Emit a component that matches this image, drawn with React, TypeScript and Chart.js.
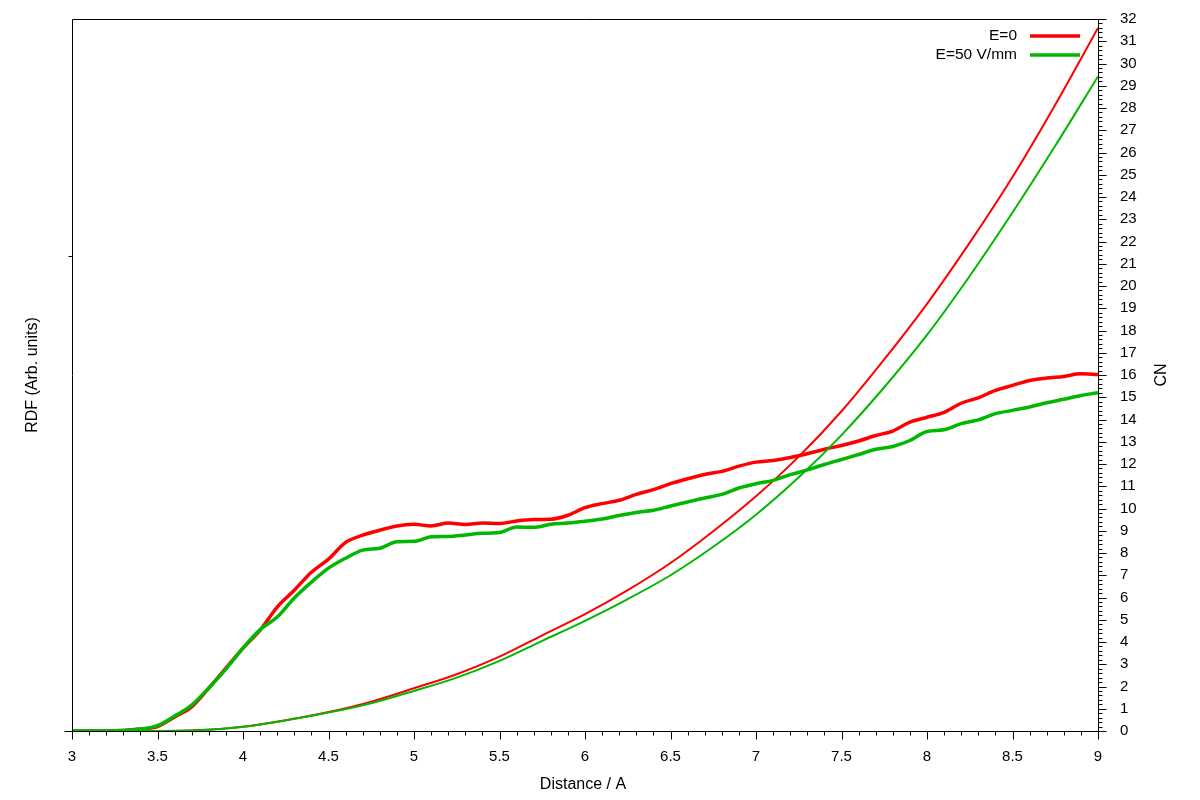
import React, { useEffect, useRef } from "react";
import { Chart, registerables } from "chart.js";

Chart.register(...registerables);

// ---- Data ----
const rdfDistance = [
  3.0, 3.1, 3.2, 3.3, 3.4, 3.5, 3.6, 3.7, 3.8, 3.9,
  4.0, 4.1, 4.2, 4.3, 4.4, 4.5, 4.6, 4.7, 4.8, 4.9,
  5.0, 5.1, 5.2, 5.3, 5.4, 5.5, 5.6, 5.7, 5.8, 5.9,
  6.0, 6.1, 6.2, 6.3, 6.4, 6.5, 6.6, 6.7, 6.8, 6.9,
  7.0, 7.1, 7.2, 7.3, 7.4, 7.5, 7.6, 7.7, 7.8, 7.9,
  8.0, 8.1, 8.2, 8.3, 8.4, 8.5, 8.6, 8.7, 8.8, 8.9,
  9.0,
];

const rdfE0 = [
  0, 0, 0, 0.002, 0.008, 0.019, 0.059, 0.102, 0.181, 0.265,
  0.349, 0.425, 0.522, 0.593, 0.669, 0.724, 0.795, 0.825, 0.846, 0.864,
  0.871, 0.864, 0.876, 0.870, 0.876, 0.874, 0.885, 0.891, 0.892, 0.909,
  0.941, 0.958, 0.972, 0.997, 1.017, 1.042, 1.063, 1.081, 1.094, 1.116,
  1.133, 1.140, 1.152, 1.168, 1.187, 1.203, 1.222, 1.245, 1.264, 1.301,
  1.322, 1.343, 1.381, 1.404, 1.435, 1.456, 1.477, 1.487, 1.494, 1.505,
  1.502,
];

const rdfE50 = [
  0, 0, 0, 0.002, 0.008, 0.023, 0.063, 0.109, 0.181, 0.261,
  0.349, 0.427, 0.480, 0.560, 0.627, 0.686, 0.728, 0.762, 0.770, 0.797,
  0.799, 0.818, 0.820, 0.826, 0.833, 0.836, 0.860, 0.858, 0.871, 0.876,
  0.884, 0.893, 0.908, 0.921, 0.930, 0.948, 0.965, 0.982, 0.997, 1.024,
  1.042, 1.056, 1.080, 1.100, 1.123, 1.144, 1.165, 1.187, 1.199, 1.224,
  1.262, 1.269, 1.295, 1.311, 1.337, 1.351, 1.365, 1.383, 1.398, 1.414,
  1.425,
];

const cnDistance = [
  3.0, 3.25, 3.5, 3.75, 4.0, 4.25, 4.5, 4.75, 5.0, 5.25, 5.5, 5.75,
  6.0, 6.25, 6.5, 6.75, 7.0, 7.25, 7.5, 7.75, 8.0, 8.25, 8.5, 8.75, 9.0,
];

const cnE0 = [
  0, 0, 0, 0.04, 0.19, 0.48, 0.85, 1.32, 1.92, 2.55, 3.34, 4.3,
  5.25, 6.33, 7.55, 8.98, 10.55, 12.33, 14.37, 16.7, 19.2, 21.95, 24.9, 28.15, 31.6,
];

const cnE50 = [
  0, 0, 0, 0.03, 0.19, 0.48, 0.83, 1.25, 1.8, 2.4, 3.15, 4.05,
  4.95, 5.93, 7.0, 8.28, 9.72, 11.4, 13.3, 15.45, 17.8, 20.45, 23.3, 26.3, 29.42,
];

const seriesLabels = ["E=0", "E=50 V/mm"];
const seriesColors = ["#ff0000", "#00b800"];
const xTitle = "Distance / A";
const leftTitle = "RDF (Arb. units)";
const rightTitle = "CN";

const FONT = "'Liberation Sans', Arial, Helvetica, sans-serif";

const toPoints = (xs: number[], ys: number[]) => xs.map((x, i) => ({ x, y: ys[i] }));

const decorPlugin = {
  id: "decor",
  afterDraw(chart: any) {
    const ctx: CanvasRenderingContext2D = chart.ctx;
    const a = chart.chartArea;
    const xs = chart.scales.x;
    const yl = chart.scales.yL;
    const yr = chart.scales.yR;
    const L = Math.round(a.left) + 0.5;
    const R = Math.round(a.right) + 0.5;
    const T = Math.round(a.top) + 0.5;
    const B = Math.round(a.bottom) + 0.5;
    ctx.save();
    ctx.strokeStyle = "#000";
    ctx.lineWidth = 1;
    ctx.beginPath();
    ctx.moveTo(L, T);
    ctx.lineTo(R, T);
    ctx.lineTo(R, B);
    ctx.lineTo(L, B);
    ctx.closePath();
    // x ticks (major every 0.5, minor every 0.1)
    for (let i = 0; i <= 60; i++) {
      const v = 3 + i * 0.1;
      const px = Math.round(xs.getPixelForValue(v)) + 0.5;
      const len = i % 5 === 0 ? 8 : 4;
      ctx.moveTo(px, B);
      ctx.lineTo(px, B + len);
    }
    // right ticks (major every 1, minor every 0.2)
    for (let i = 0; i <= 160; i++) {
      const v = i * 0.2;
      const py = Math.round(yr.getPixelForValue(v)) + 0.5;
      const len = i % 5 === 0 ? 8 : 4;
      ctx.moveTo(R, py);
      ctx.lineTo(R + len, py);
    }
    // left ticks
    const p0 = Math.round(yl.getPixelForValue(0)) + 0.5;
    ctx.moveTo(L, p0);
    ctx.lineTo(L - 8, p0);
    const p2 = Math.round(yl.getPixelForValue(2)) + 0.5;
    ctx.moveTo(L, p2);
    ctx.lineTo(L - 4, p2);
    ctx.stroke();

    // titles
    ctx.fillStyle = "#000";
    ctx.font = `16px ${FONT}`;
    ctx.textAlign = "center";
    ctx.textBaseline = "middle";
    const cy = (a.top + a.bottom) / 2;
    ctx.fillText(xTitle, (a.left + a.right) / 2 - 2, 785);
    ctx.save();
    ctx.translate(33, cy);
    ctx.rotate(-Math.PI / 2);
    ctx.fillText(leftTitle, 0, 0);
    ctx.restore();
    ctx.save();
    ctx.translate(1162, cy);
    ctx.rotate(-Math.PI / 2);
    ctx.fillText(rightTitle, 0, 0);
    ctx.restore();

    // legend
    ctx.font = `15.5px ${FONT}`;
    ctx.textAlign = "right";
    seriesLabels.forEach((lab, i) => {
      const y = 36 + i * 19;
      ctx.fillStyle = "#000";
      ctx.fillText(lab, 1017, y);
      ctx.strokeStyle = seriesColors[i];
      ctx.lineWidth = 3.5;
      ctx.beginPath();
      ctx.moveTo(1030, y);
      ctx.lineTo(1080, y);
      ctx.stroke();
    });
    ctx.restore();
  },
};

export default function App() {
  const ref = useRef<HTMLCanvasElement | null>(null);
  useEffect(() => {
    if (!ref.current) return;
    Chart.defaults.font.family = FONT;
    const common = { pointRadius: 0, fill: false, cubicInterpolationMode: "monotone" as const };
    const chart = new Chart(ref.current, {
      type: "line",
      data: {
        datasets: [
          { ...common, label: seriesLabels[1] + " RDF", data: toPoints(rdfDistance, rdfE50), borderColor: seriesColors[1], borderWidth: 3.5, yAxisID: "yL" },
          { ...common, label: seriesLabels[1] + " CN", data: toPoints(cnDistance, cnE50), borderColor: seriesColors[1], borderWidth: 2, yAxisID: "yR" },
          { ...common, label: seriesLabels[0] + " RDF", data: toPoints(rdfDistance, rdfE0), borderColor: seriesColors[0], borderWidth: 3.5, yAxisID: "yL" },
          { ...common, label: seriesLabels[0] + " CN", data: toPoints(cnDistance, cnE0), borderColor: seriesColors[0], borderWidth: 2, yAxisID: "yR" },
        ],
      },
      options: {
        responsive: false,
        animation: false,
        events: [],
        layout: { padding: { top: 19, left: 0, right: 0, bottom: 0 } },
        plugins: { legend: { display: false }, tooltip: { enabled: false }, title: { display: false } },
        scales: {
          x: {
            type: "linear",
            min: 3,
            max: 9,
            grid: { display: false, drawTicks: false },
            border: { display: false },
            ticks: {
              stepSize: 0.5,
              padding: 17,
              color: "#000",
              font: { size: 15, family: FONT },
              maxRotation: 0,
              autoSkip: false,
              callback: (v: any) => String(Math.round(Number(v) * 10) / 10),
            },
            afterFit: (s: any) => { s.height = 69; s.paddingLeft = 0; s.paddingRight = 0; },
          },
          yL: {
            type: "linear",
            position: "left",
            min: 0,
            max: 3,
            grid: { display: false, drawTicks: false },
            border: { display: false },
            ticks: { display: false },
            afterFit: (s: any) => { s.width = 72; s.paddingTop = 0; s.paddingBottom = 0; },
          },
          yR: {
            type: "linear",
            position: "right",
            min: 0,
            max: 32,
            grid: { display: false, drawTicks: false },
            border: { display: false },
            ticks: {
              stepSize: 1,
              padding: 22,
              color: "#000",
              font: { size: 15, family: FONT },
              autoSkip: false,
              callback: (v: any) => String(v),
            },
            afterFit: (s: any) => { s.width = 102; s.paddingTop = 0; s.paddingBottom = 0; },
          },
        },
      },
      plugins: [decorPlugin],
    } as any);
    return () => chart.destroy();
  }, []);
  return (
    <div style={{ position: "fixed", left: 0, top: 0, width: 1200, height: 800, background: "#fff" }}>
      <canvas ref={ref} width={1200} height={800} style={{ display: "block" }} />
    </div>
  );
}
